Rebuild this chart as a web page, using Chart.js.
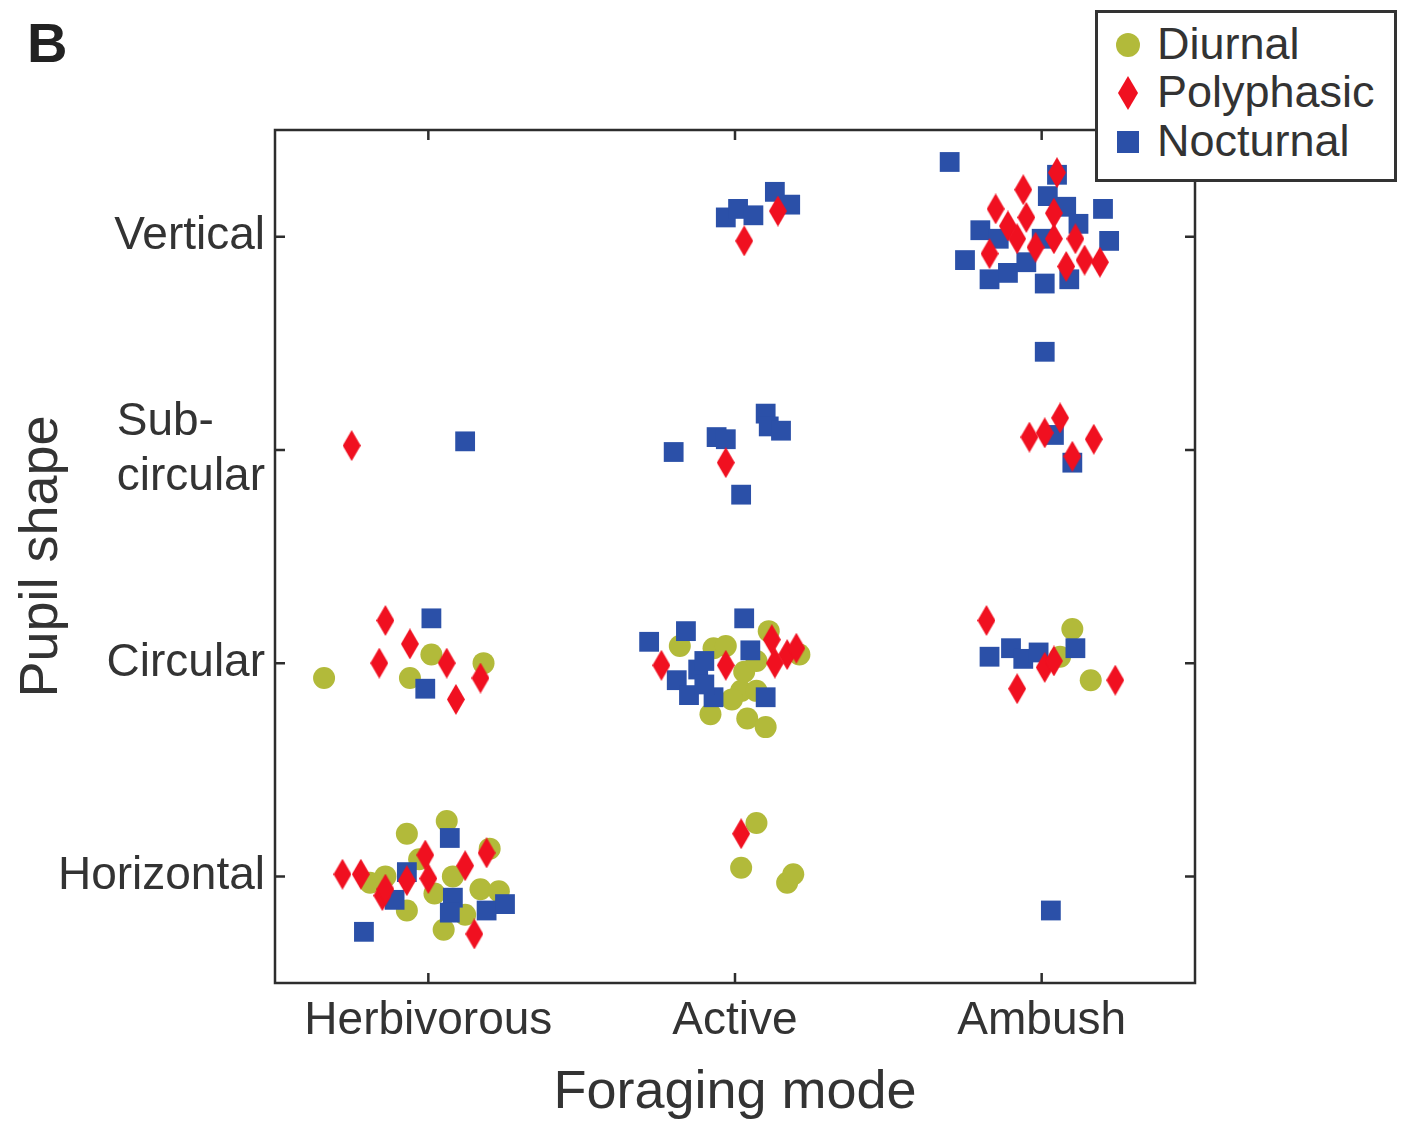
<!DOCTYPE html>
<html><head><meta charset="utf-8">
<script src="https://cdn.jsdelivr.net/npm/chart.js@4/dist/chart.umd.min.js"></script>
<style>
html,body{margin:0;padding:0;background:#fff;}
#wrap{position:relative;width:1404px;height:1126px;overflow:hidden;font-family:"Liberation Sans",Arial,sans-serif;color:#333;}
#c{position:absolute;left:0;top:0;}
#panel{position:absolute;left:27px;top:15px;font-size:56px;line-height:56px;font-weight:bold;color:#222;}
#legend{position:absolute;left:1095px;top:10px;width:296px;height:166px;border:3px solid #333;background:#fff;}
.row{position:absolute;left:59px;font-size:45px;line-height:45px;white-space:nowrap;color:#333;}
.mk{position:absolute;display:block;}
</style></head>
<body>
<div id="wrap">
<canvas id="c" width="1404" height="1126"></canvas>
<div id="panel">B</div>
<div id="legend">
  <svg class="mk" style="left:18px;top:20px" width="24" height="24"><circle cx="12" cy="12" r="12" fill="#b2ba3a"/></svg>
  <div class="row" style="top:8px">Diurnal</div>
  <svg class="mk" style="left:20px;top:63px" width="20" height="34"><polygon points="10,0 20,17 10,34 0,17" fill="#f01020"/></svg>
  <div class="row" style="top:56px">Polyphasic</div>
  <svg class="mk" style="left:19px;top:118px" width="22" height="22"><rect x="0" y="0" width="22" height="22" fill="#2b50a8"/></svg>
  <div class="row" style="top:105px">Nocturnal</div>
</div>
</div>
<script>
// Categories
const foragingModes = ['Herbivorous', 'Active', 'Ambush'];
const pupilShapes = ['Horizontal', 'Circular', 'Sub-circular', 'Vertical'];
const xTickValues = [1, 2, 3];
const yTickValues = [1, 2, 3, 4];

// Diurnal (green circles)
const diurnalX = [0.66,1.01,0.94,1.18,
  1.92,2.04,2.10,2.02,2.07,2.11,2.21,1.93,1.82,2.03,1.97,2.07,1.99,
  3.10,3.16,3.06,
  1.06,0.93,1.20,0.93,1.05,1.17,1.23,1.12,0.81,1.02,0.86,0.97,1.08,
  2.07,2.02,2.17,2.19];
const diurnalY = [1.93,2.04,1.93,2.00,
  1.76,1.74,1.70,1.87,1.87,2.15,2.04,2.07,2.08,1.96,2.08,2.01,1.83,
  2.16,1.92,2.03,
  1.26,1.20,1.13,0.84,0.75,0.94,0.93,0.82,0.97,0.92,1.00,1.08,1.00,
  1.25,1.04,0.97,1.01];

// Polyphasic (red diamonds)
const polyphasicX = [3.05,2.94,2.85,2.89,2.83,2.95,3.04,3.04,3.11,3.14,3.19,2.98,3.08,2.92,
  2.03,2.14,
  0.75,1.97,2.96,3.01,3.06,3.10,3.17,
  0.86,0.94,0.84,1.06,1.17,1.09,
  1.76,1.97,2.12,2.17,2.13,2.20,
  2.82,2.92,3.01,3.04,3.24,
  0.72,0.78,0.85,0.86,0.93,0.99,1.00,1.12,1.19,1.15,
  2.02];
const polyphasicY = [4.30,4.22,4.13,4.05,3.92,4.09,4.11,3.99,3.99,3.89,3.88,3.95,3.86,3.99,
  3.98,4.12,
  3.02,2.94,3.06,3.08,3.15,2.97,3.05,
  2.20,2.09,2.00,2.00,1.93,1.83,
  1.99,1.99,2.11,2.04,2.00,2.07,
  2.20,1.88,1.98,2.01,1.92,
  1.01,1.01,0.91,0.94,0.98,1.10,0.99,1.05,1.11,0.73,
  1.20];

// Nocturnal (blue squares)
const nocturnalX = [1.97,2.01,2.06,2.13,2.18,
  2.70,3.01,3.20,3.22,2.75,2.80,2.83,2.89,3.01,3.09,3.08,3.02,3.05,2.95,3.00,3.12,2.86,
  1.12,1.80,1.94,1.97,2.02,2.10,2.11,2.15,3.04,3.10,
  1.01,0.99,
  1.72,1.84,2.03,2.05,2.10,1.81,1.88,1.85,1.93,1.90,1.90,
  2.83,2.90,2.94,2.99,3.11,
  1.07,0.93,0.89,1.08,1.07,1.19,1.25,0.79,
  3.03];
const nocturnalY = [4.09,4.13,4.10,4.21,4.15,
  4.35,3.46,4.13,3.98,3.89,4.03,3.80,3.83,3.78,3.80,4.14,4.19,4.29,3.88,3.99,4.06,3.99,
  3.04,2.99,3.06,3.05,2.79,3.17,3.11,3.09,3.07,2.94,
  2.21,1.88,
  2.10,2.15,2.21,2.06,1.84,1.92,1.97,1.85,1.84,1.90,2.01,
  2.03,2.07,2.02,2.05,2.07,
  1.18,1.02,0.89,0.90,0.83,0.84,0.87,0.74,
  0.84];

const GREEN = '#b2ba3a', RED = '#f01020', BLUE = '#2b50a8', INK = '#333333';
const toPts = (xs, ys) => xs.map((x, i) => ({x: x, y: ys[i]}));

// Tall diamond marker
const diamond = document.createElement('canvas');
diamond.width = 18; diamond.height = 31;
(function(){ const g = diamond.getContext('2d'); g.fillStyle = RED; g.beginPath();
  g.moveTo(9,0); g.lineTo(18,15.5); g.lineTo(9,31); g.lineTo(0,15.5); g.closePath(); g.fill(); })();

const framePlugin = {
  id: 'frame',
  afterDraw(chart) {
    const {ctx, chartArea: a, scales} = chart;
    ctx.save();
    ctx.strokeStyle = '#2d2d2d';
    ctx.lineWidth = 2.5;
    ctx.strokeRect(a.left, a.top, a.right - a.left, a.bottom - a.top);
    const tl = 10;
    ctx.beginPath();
    xTickValues.forEach(v => {
      const px = scales.x.getPixelForValue(v);
      ctx.moveTo(px, a.bottom); ctx.lineTo(px, a.bottom - tl);
      ctx.moveTo(px, a.top); ctx.lineTo(px, a.top + tl);
    });
    yTickValues.forEach(v => {
      const py = scales.y.getPixelForValue(v);
      ctx.moveTo(a.left, py); ctx.lineTo(a.left + tl, py);
      ctx.moveTo(a.right, py); ctx.lineTo(a.right - tl, py);
    });
    ctx.stroke();
    ctx.restore();
  }
};

const tickFont = {family: '"Liberation Sans", Arial, sans-serif', size: 46};
const titleFont = {family: '"Liberation Sans", Arial, sans-serif', size: 54};

new Chart(document.getElementById('c'), {
  type: 'scatter',
  data: {
    datasets: [
      {label: 'Polyphasic', data: toPts(polyphasicX, polyphasicY), pointStyle: diamond,
       pointRadius: 9, backgroundColor: RED, borderWidth: 0},
      {label: 'Nocturnal', data: toPts(nocturnalX, nocturnalY), pointStyle: 'rect',
       pointRadius: 14, backgroundColor: BLUE, borderWidth: 0},
      {label: 'Diurnal', data: toPts(diurnalX, diurnalY), pointStyle: 'circle',
       pointRadius: 11, backgroundColor: GREEN, borderWidth: 0}
    ]
  },
  options: {
    responsive: false,
    animation: false,
    devicePixelRatio: 1,
    layout: {padding: {left: 0, top: 130, right: 209, bottom: 0}},
    plugins: {legend: {display: false}, tooltip: {enabled: false}},
    scales: {
      x: {
        type: 'linear', min: 0.5, max: 3.5,
        afterBuildTicks(s) { s.ticks = xTickValues.map(v => ({value: v})); },
        afterFit(s) { s.height = 143; },
        grid: {display: false, drawTicks: false},
        border: {display: false},
        ticks: {font: tickFont, color: INK, padding: 11, maxRotation: 0,
          callback: v => foragingModes[Math.round(v) - 1]},
        title: {display: true, text: 'Foraging mode', font: titleFont, color: INK, padding: {top: 0, bottom: 0}}
      },
      y: {
        type: 'linear', min: 0.5, max: 4.5,
        afterBuildTicks(s) { s.ticks = yTickValues.map(v => ({value: v})); },
        afterFit(s) { s.width = 275; },
        grid: {display: false, drawTicks: false},
        border: {display: false},
        ticks: {font: tickFont, color: INK, padding: 10,
          callback: v => {
            const lab = pupilShapes[Math.round(v) - 1];
            if (lab === 'Sub-circular') return ['Sub-    ', 'circular'];
            return lab;
          }},
        title: {display: true, text: 'Pupil shape', font: titleFont, color: INK, padding: {top: 10, bottom: 0}}
      }
    }
  },
  plugins: [framePlugin]
});
</script>
</body></html>
